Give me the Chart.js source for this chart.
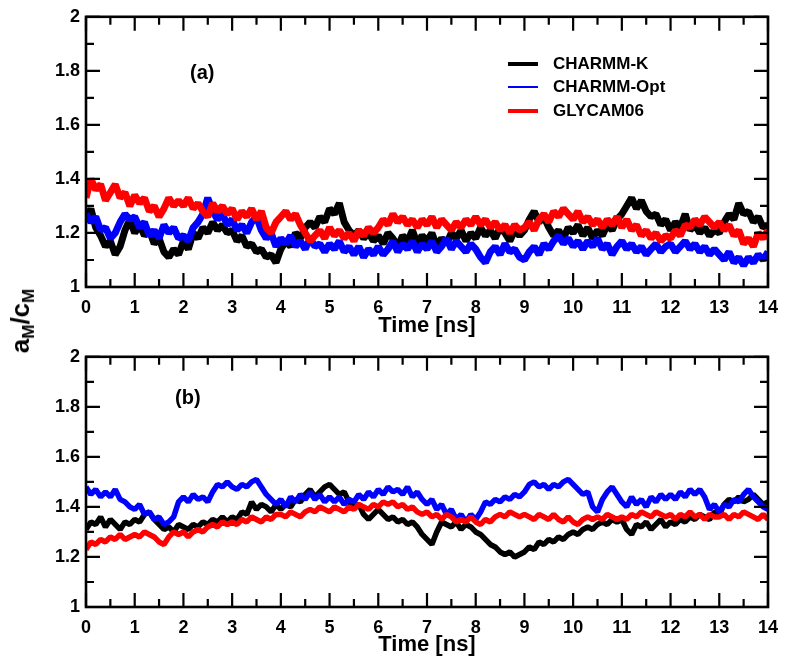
<!DOCTYPE html>
<html lang="en">
<head>
    <meta charset="UTF-8">
    <title>aM/cM vs time</title>
    <script src="https://cdn.jsdelivr.net/npm/chart.js"></script>
    <style>
        body { margin: 0; background: #fff; font-family: "Liberation Sans", Arial, sans-serif; font-weight: bold; }
        #wrap { position: relative; width: 788px; height: 660px; overflow: hidden; }
        canvas { position: absolute; left: 0; }
        #chartA { top: 0; }
        #chartB { top: 340px; }
        .ylab { position: absolute; left: 22px; top: 321px; transform: translate(-50%, -50%) rotate(-90deg); font-size: 26px; white-space: nowrap; }
        .ylab sub { font-size: 17px; vertical-align: -5px; }
        .panel { position: absolute; font-size: 20px; }
        .legend { position: absolute; left: 508px; top: 52px; font-size: 17px; }
        .legend div { height: 23.5px; display: flex; align-items: center; }
        .legend span.ln { display: inline-block; width: 30px; margin-right: 15px; }
    </style>
</head>
<body>
<div id="wrap">
    <canvas id="chartA" width="788" height="345"></canvas>
    <canvas id="chartB" width="788" height="320"></canvas>
    <div class="ylab">a<sub>M</sub>/c<sub>M</sub></div>
    <div class="panel" style="left:190px; top:61px;">(a)</div>
    <div class="panel" style="left:175px; top:386px;">(b)</div>
    <div class="legend">
        <div><span class="ln" style="border-top:4px solid #000"></span>CHARMM-K</div>
        <div><span class="ln" style="border-top:2px solid #00f"></span>CHARMM-Opt</div>
        <div><span class="ln" style="border-top:4px solid #f00"></span>GLYCAM06</div>
    </div>
</div>

<script>
// time axis, 0 to 14 ns, sampled every 0.1 ns
const times = Array.from({ length: 141 }, (_, i) => i / 10);

const seriesNames = ['CHARMM-K', 'CHARMM-Opt', 'GLYCAM06'];
const seriesColors = ['#000000', '#0000ff', '#ff0000'];

// panel (a)
const charmmK_a = [
  1.25, 1.29, 1.22, 1.19, 1.15, 1.17, 1.12, 1.15, 1.21, 1.25,
  1.20, 1.23, 1.19, 1.21, 1.16, 1.18, 1.13, 1.11, 1.14, 1.12,
  1.17, 1.14, 1.20, 1.18, 1.22, 1.20, 1.24, 1.21, 1.23, 1.20,
  1.21, 1.17, 1.19, 1.15, 1.16, 1.13, 1.14, 1.11, 1.12, 1.09,
  1.14, 1.17, 1.15, 1.20, 1.18, 1.22, 1.24, 1.22, 1.26, 1.24,
  1.29, 1.27, 1.31, 1.24, 1.21, 1.19, 1.21, 1.18, 1.20, 1.17,
  1.19, 1.16, 1.20, 1.18, 1.15, 1.19, 1.17, 1.21, 1.16, 1.19,
  1.17, 1.20, 1.15, 1.18, 1.16, 1.20, 1.18, 1.21, 1.17, 1.20,
  1.18, 1.22, 1.19, 1.21, 1.18, 1.22, 1.20, 1.17, 1.21, 1.19,
  1.21, 1.25, 1.28, 1.24, 1.26, 1.22, 1.19, 1.21, 1.18, 1.22,
  1.20, 1.23, 1.19, 1.22, 1.18, 1.21, 1.19, 1.23, 1.21, 1.25,
  1.27, 1.30, 1.33, 1.29, 1.32, 1.28, 1.26, 1.27, 1.23, 1.25,
  1.21, 1.24, 1.22, 1.27, 1.21, 1.23, 1.20, 1.22, 1.19, 1.21,
  1.20, 1.24, 1.27, 1.25, 1.31, 1.27, 1.28, 1.24, 1.26, 1.22,
  1.23
];
const charmmOpt_a = [
  1.27, 1.24, 1.26, 1.21, 1.22, 1.18, 1.20, 1.24, 1.27, 1.25,
  1.26, 1.22, 1.24, 1.19, 1.21, 1.18, 1.23, 1.20, 1.22, 1.18,
  1.19, 1.17, 1.22, 1.24, 1.27, 1.33, 1.28, 1.25, 1.27, 1.23,
  1.25, 1.21, 1.23, 1.20, 1.24, 1.26, 1.21, 1.18, 1.20, 1.15,
  1.18, 1.16, 1.19, 1.15, 1.17, 1.14, 1.18, 1.15, 1.16, 1.13,
  1.16, 1.14, 1.17, 1.13, 1.15, 1.12, 1.15, 1.11, 1.14, 1.12,
  1.15, 1.12, 1.14, 1.17, 1.13, 1.16, 1.14, 1.17, 1.13, 1.16,
  1.14, 1.17, 1.13, 1.15, 1.18, 1.14, 1.17, 1.15, 1.13, 1.16,
  1.14, 1.11, 1.09, 1.13, 1.15, 1.12, 1.16, 1.13, 1.14, 1.11,
  1.10, 1.13, 1.15, 1.12, 1.16, 1.14, 1.17, 1.19, 1.16, 1.18,
  1.15, 1.17, 1.14, 1.17, 1.15, 1.18, 1.14, 1.16, 1.12, 1.15,
  1.17, 1.14, 1.16, 1.13, 1.15, 1.12, 1.14, 1.16, 1.13, 1.15,
  1.16, 1.13, 1.15, 1.17, 1.14, 1.16, 1.13, 1.15, 1.12, 1.14,
  1.12, 1.10, 1.13, 1.09, 1.11, 1.08, 1.11, 1.09, 1.12, 1.10,
  1.13
];
const glycam_a = [
  1.33, 1.40, 1.36, 1.38, 1.32, 1.35, 1.38, 1.33, 1.35, 1.30,
  1.34, 1.31, 1.33, 1.28, 1.30, 1.26, 1.29, 1.33, 1.30, 1.32,
  1.30, 1.33, 1.29, 1.31, 1.28, 1.26, 1.31, 1.28, 1.30, 1.27,
  1.29, 1.25, 1.28, 1.26, 1.29, 1.25, 1.28, 1.22, 1.20, 1.24,
  1.26, 1.28, 1.25, 1.27, 1.23, 1.20, 1.17, 1.19, 1.21, 1.18,
  1.22, 1.19, 1.21, 1.18, 1.20, 1.17, 1.21, 1.19, 1.22, 1.20,
  1.22, 1.25, 1.23, 1.27, 1.24, 1.26, 1.23, 1.25, 1.22, 1.25,
  1.23, 1.26, 1.22, 1.25, 1.23, 1.21, 1.24, 1.22, 1.25, 1.23,
  1.26, 1.23, 1.25, 1.22, 1.24, 1.21, 1.23, 1.20, 1.23, 1.21,
  1.22, 1.24, 1.21, 1.25, 1.27, 1.24, 1.28, 1.26, 1.29, 1.27,
  1.25, 1.28, 1.24, 1.26, 1.23, 1.25, 1.22, 1.25, 1.23, 1.26,
  1.22, 1.25, 1.21, 1.23, 1.19, 1.21, 1.18, 1.20, 1.17, 1.19,
  1.18, 1.21, 1.19, 1.23, 1.22, 1.25, 1.23, 1.26, 1.24, 1.22,
  1.24, 1.21, 1.23, 1.19, 1.21, 1.16, 1.18, 1.15, 1.20, 1.18,
  1.21
];

// panel (b)
const charmmK_b = [
  1.31, 1.34, 1.33, 1.36, 1.32, 1.35, 1.33, 1.31, 1.34, 1.33,
  1.35, 1.34, 1.37, 1.38, 1.35, 1.33, 1.31, 1.32, 1.30, 1.33,
  1.32, 1.31, 1.33, 1.32, 1.34, 1.33, 1.35, 1.34, 1.36, 1.34,
  1.36, 1.35, 1.38, 1.37, 1.42, 1.39, 1.41, 1.40, 1.38, 1.41,
  1.39, 1.41, 1.40, 1.43, 1.42, 1.45, 1.47, 1.44, 1.46, 1.48,
  1.49, 1.47, 1.45, 1.46, 1.42, 1.40, 1.41, 1.37, 1.35, 1.37,
  1.39, 1.37, 1.35, 1.36, 1.34, 1.35, 1.33, 1.34, 1.32, 1.29,
  1.27, 1.25, 1.30, 1.34, 1.33, 1.32, 1.34, 1.31, 1.33, 1.32,
  1.30, 1.29, 1.27, 1.25, 1.24, 1.22, 1.21, 1.22, 1.20, 1.21,
  1.22, 1.24, 1.23, 1.26, 1.25, 1.27, 1.26, 1.28, 1.27, 1.29,
  1.30, 1.29, 1.31, 1.32, 1.31, 1.33, 1.34, 1.33, 1.35, 1.34,
  1.35, 1.31, 1.29, 1.33, 1.32, 1.34, 1.31, 1.33, 1.35, 1.32,
  1.34, 1.33, 1.35, 1.34, 1.36, 1.35, 1.37, 1.36, 1.35, 1.38,
  1.37, 1.41, 1.43, 1.42, 1.44, 1.42, 1.43, 1.45, 1.43, 1.41,
  1.42
];
const charmmOpt_b = [
  1.48, 1.45, 1.47, 1.44, 1.46, 1.44, 1.47, 1.43, 1.42, 1.40,
  1.39, 1.41, 1.37, 1.38, 1.35, 1.36, 1.33, 1.34, 1.36, 1.42,
  1.44, 1.42, 1.45, 1.43, 1.44, 1.42, 1.46, 1.49, 1.48, 1.50,
  1.48, 1.47, 1.49, 1.48, 1.50, 1.51, 1.48, 1.45, 1.43, 1.41,
  1.43, 1.40, 1.44, 1.42, 1.45, 1.43, 1.46, 1.43, 1.45, 1.42,
  1.44, 1.42, 1.44, 1.41, 1.43, 1.42, 1.45, 1.43, 1.46, 1.44,
  1.47, 1.45, 1.48, 1.46, 1.47, 1.45, 1.48, 1.44, 1.46, 1.43,
  1.41, 1.43, 1.39, 1.41, 1.37, 1.39, 1.35, 1.37, 1.34, 1.37,
  1.35, 1.38, 1.42, 1.41, 1.43, 1.42, 1.44, 1.43, 1.45, 1.44,
  1.46, 1.49, 1.50, 1.48, 1.49, 1.47, 1.49, 1.48, 1.50, 1.51,
  1.49, 1.47, 1.45, 1.46, 1.40, 1.38, 1.43, 1.46, 1.48, 1.45,
  1.42, 1.40, 1.44, 1.41, 1.43, 1.40, 1.44, 1.42, 1.45, 1.43,
  1.45, 1.43, 1.46, 1.44, 1.47, 1.45, 1.47, 1.44, 1.39, 1.41,
  1.38, 1.41, 1.40, 1.43, 1.42, 1.45, 1.47, 1.44, 1.42, 1.40,
  1.39
];
const glycam_b = [
  1.23, 1.26, 1.25, 1.27, 1.26, 1.28, 1.27, 1.29, 1.27, 1.28,
  1.29, 1.28, 1.30, 1.29, 1.28, 1.26, 1.25, 1.28, 1.30, 1.29,
  1.30, 1.28, 1.30, 1.31, 1.30, 1.32, 1.33, 1.32, 1.34, 1.33,
  1.34, 1.33, 1.35, 1.34, 1.36, 1.35, 1.34, 1.36, 1.35, 1.37,
  1.37, 1.36, 1.38, 1.37, 1.36, 1.38, 1.39, 1.38, 1.40, 1.39,
  1.38, 1.40, 1.39, 1.38, 1.40, 1.39, 1.41, 1.40, 1.39, 1.41,
  1.40, 1.42, 1.41, 1.42, 1.40, 1.41, 1.39, 1.40, 1.38, 1.37,
  1.38, 1.36, 1.37, 1.35, 1.37, 1.36, 1.34, 1.35, 1.34, 1.36,
  1.34, 1.33, 1.35, 1.34, 1.36, 1.37, 1.36, 1.38, 1.37, 1.36,
  1.37, 1.36, 1.35, 1.37, 1.36, 1.35, 1.37, 1.35, 1.34, 1.36,
  1.34, 1.33, 1.35, 1.36, 1.35, 1.36, 1.35, 1.37, 1.36, 1.35,
  1.36, 1.35, 1.37, 1.36, 1.38, 1.37, 1.36, 1.38, 1.37, 1.36,
  1.37, 1.35, 1.37, 1.36, 1.38, 1.36, 1.37, 1.35, 1.37, 1.36,
  1.36, 1.37, 1.35, 1.37, 1.36, 1.38, 1.37, 1.36, 1.35, 1.37,
  1.35
];

const FONT = '"Liberation Sans", Arial, Helvetica, sans-serif';

// inward major/minor ticks on all four sides plus the box frame
const frameTicks = {
  id: 'frameTicks',
  afterDatasetsDraw(chart) {
    const { ctx, chartArea: a, scales: { x, y } } = chart;
    ctx.save();
    ctx.strokeStyle = '#000';
    ctx.lineWidth = 2.2;
    ctx.beginPath();
    const xt = x.ticks.map(t => t.value);
    xt.forEach((v, i) => {
      const px = x.getPixelForValue(v);
      ctx.moveTo(px, a.bottom); ctx.lineTo(px, a.bottom - 14);
      ctx.moveTo(px, a.top); ctx.lineTo(px, a.top + 14);
      if (i < xt.length - 1) {
        const pm = x.getPixelForValue((v + xt[i + 1]) / 2);
        ctx.moveTo(pm, a.bottom); ctx.lineTo(pm, a.bottom - 8);
        ctx.moveTo(pm, a.top); ctx.lineTo(pm, a.top + 8);
      }
    });
    const yt = y.ticks.map(t => t.value);
    yt.forEach((v, i) => {
      const py = y.getPixelForValue(v);
      ctx.moveTo(a.left, py); ctx.lineTo(a.left + 14, py);
      ctx.moveTo(a.right, py); ctx.lineTo(a.right - 14, py);
      if (i < yt.length - 1) {
        const pm = y.getPixelForValue((v + yt[i + 1]) / 2);
        ctx.moveTo(a.left, pm); ctx.lineTo(a.left + 8, pm);
        ctx.moveTo(a.right, pm); ctx.lineTo(a.right - 8, pm);
      }
    });
    ctx.stroke();
    ctx.lineWidth = 2.6;
    ctx.strokeRect(a.left, a.top, a.right - a.left, a.bottom - a.top);
    ctx.restore();
  }
};

function makePanel(id, k, opt, gly, pad, xHeight, titlePad, lineW) {
  const sets = [k, opt, gly].map((vals, i) => ({
    label: seriesNames[i],
    data: vals.map((v, j) => ({ x: times[j], y: v })),
    borderColor: seriesColors[i],
    borderWidth: lineW,
    borderJoinStyle: 'bevel',
    pointRadius: 0,
    tension: 0,
    order: 3 - i
  }));
  return new Chart(document.getElementById(id), {
    type: 'line',
    data: { datasets: sets },
    options: {
      responsive: false,
      animation: false,
      layout: { padding: pad },
      plugins: { legend: { display: false }, tooltip: { enabled: false } },
      scales: {
        x: {
          type: 'linear', min: 0, max: 14,
          grid: { display: false, drawTicks: false },
          border: { display: false },
          ticks: { stepSize: 1, padding: 10, color: '#000', font: { family: FONT, size: 18, weight: 'bold' } },
          title: { display: true, text: 'Time [ns]', color: '#000', padding: { top: 0, bottom: titlePad }, font: { family: FONT, size: 22, weight: 'bold' } },
          afterFit(s) { s.height = xHeight; }
        },
        y: {
          min: 1, max: 2,
          grid: { display: false, drawTicks: false },
          border: { display: false },
          ticks: {
            stepSize: 0.2, padding: 6, color: '#000',
            font: { family: FONT, size: 18, weight: 'bold' },
            callback: v => String(Number(v.toFixed(1)))
          },
          afterFit(s) { s.width = 86; }
        }
      }
    },
    plugins: [frameTicks]
  });
}

makePanel('chartA', charmmK_a, charmmOpt_a, glycam_a, { left: 0, right: 19, top: 16, bottom: 0 }, 58, 6, 7);
makePanel('chartB', charmmK_b, charmmOpt_b, glycam_b, { left: 0, right: 11, top: 12, bottom: 0 }, 53, 2, 5.5);
</script>
</body>
</html>
